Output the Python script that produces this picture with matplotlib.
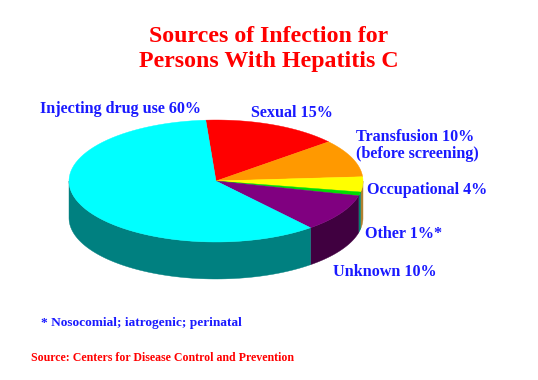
import numpy as np
import matplotlib
matplotlib.use('Agg')
import matplotlib.pyplot as plt

# slice data, clockwise from the top
sources = ['Sexual', 'Transfusion', 'Occupational', 'Other', 'Unknown', 'Injecting drug use']
shares = [15, 10, 4, 1, 10, 60]
top_colors = ['#ff0000', '#ff9900', '#ffff00', '#00dd00', '#800080', '#00ffff']
side_colors = ['#800000', '#996600', '#b08030', '#008070', '#400040', '#008080']

title_lines = ['Sources of Infection for', 'Persons With Hepatitis C']
slice_labels = [
    ('Injecting drug use 60%', 40, 109),
    ('Sexual 15%', 251, 113),
    ('Transfusion 10%', 356, 137),
    ('(before screening)', 356, 154),
    ('Occupational 4%', 367, 190),
    ('Other 1%*', 365, 234),
    ('Unknown 10%', 333, 272),
]
footnote = '* Nosocomial; iatrogenic; perinatal'
source_note = 'Source: Centers for Disease Control and Prevention'

cx, cy = 216, 181
rx, ry = 147, 61
depth = 37
start_angle = 94

plt.rcParams['font.family'] = ['Liberation Serif', 'DejaVu Serif']
plt.rcParams['font.weight'] = 'bold'

fig = plt.figure(figsize=(5.38, 3.80), dpi=100)
ax = fig.add_axes([0, 0, 1, 1])
ax.set_xlim(0, 538)
ax.set_ylim(380, 0)
ax.axis('off')


def rim(a0, a1):
    t = np.radians(np.linspace(a0, a1, 80))
    return cx + rx * np.cos(t), cy - ry * np.sin(t)


# walk round the pie clockwise
edges = start_angle - np.cumsum([0] + shares) * 3.6

# side wall first, only the front half of the rim shows
for i in range(len(shares)):
    hi, lo = edges[i], edges[i + 1]
    hi2, lo2 = min(hi, 0), max(lo, -180)
    if hi2 <= lo2:
        continue
    x, y = rim(hi2, lo2)
    ax.fill(np.r_[x, x[::-1]], np.r_[y, y[::-1] + depth], color=side_colors[i], lw=0.3)

# then the top face
for i in range(len(shares)):
    x, y = rim(edges[i], edges[i + 1])
    ax.fill(np.r_[cx, x], np.r_[cy, y], color=top_colors[i], lw=0.3)

for i, line in enumerate(title_lines):
    ax.text(269, 37 + i * 25, line, color='#ff0000', fontsize=17.2, ha='center', va='center')

for text, x, y in slice_labels:
    ax.text(x, y, text, color='#1a1aff', fontsize=11.6, ha='left', va='center')

ax.text(41, 323, footnote, color='#1a1aff', fontsize=9.6, ha='left', va='center')
ax.text(31, 358, source_note, color='#ff0000', fontsize=8.6, ha='left', va='center')

fig.savefig('out.png', dpi=100)
